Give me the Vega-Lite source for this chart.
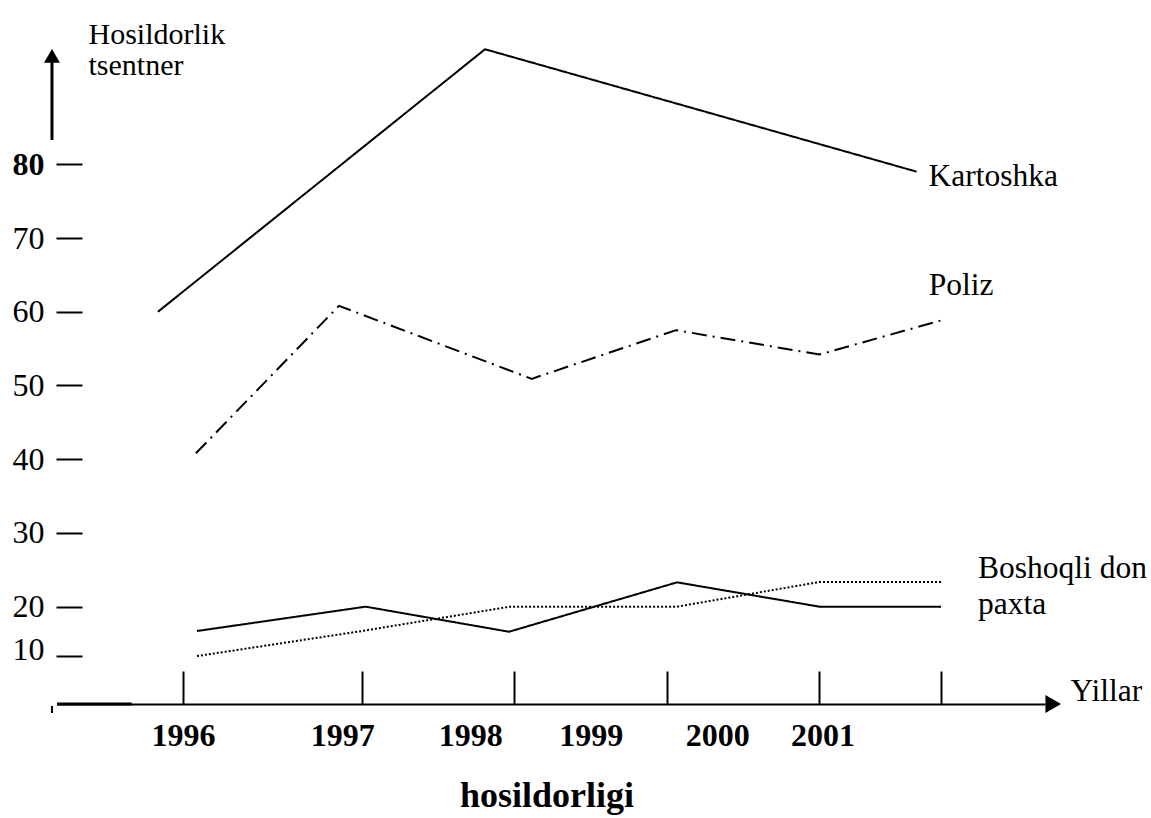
{
  "$schema": "https://vega.github.io/schema/vega-lite/v6.json",
  "width": 988,
  "height": 704,
  "autosize": {"type": "none"},
  "padding": {"left": 57, "top": 0, "right": 106, "bottom": 114},
  "background": "white",
  "config": {"view": {"stroke": null}, "font": "Liberation Serif"},
  "title": {
    "text": "hosildorligi",
    "orient": "bottom",
    "anchor": "middle",
    "frame": "group",
    "font": "Liberation Serif",
    "fontSize": 36,
    "fontWeight": "bold",
    "color": "black",
    "baseline": "alphabetic",
    "dx": -4,
    "offset": 56
  },
  "data": {
    "values": [
      {"series": "Kartoshka", "year": 1995.662, "value": 60.0},
      {"series": "Kartoshka", "year": 1997.807, "value": 95.6},
      {"series": "Kartoshka", "year": 2000.637, "value": 79.0},
      {"series": "Poliz", "year": 1995.911, "value": 40.8},
      {"series": "Poliz", "year": 1996.849, "value": 60.8},
      {"series": "Poliz", "year": 1998.113, "value": 50.9},
      {"series": "Poliz", "year": 1999.059, "value": 57.5},
      {"series": "Poliz", "year": 2000.0, "value": 54.2},
      {"series": "Poliz", "year": 2000.828, "value": 59.0},
      {"series": "paxta", "year": 1995.918, "value": 16.7},
      {"series": "paxta", "year": 1997.024, "value": 20.0},
      {"series": "paxta", "year": 1997.964, "value": 16.6},
      {"series": "paxta", "year": 1999.066, "value": 23.3},
      {"series": "paxta", "year": 2000.0, "value": 20.0},
      {"series": "paxta", "year": 2000.797, "value": 20.0},
      {"series": "Boshoqli don", "year": 1995.918, "value": 13.3},
      {"series": "Boshoqli don", "year": 1997.0, "value": 16.7},
      {"series": "Boshoqli don", "year": 1997.97, "value": 20.0},
      {"series": "Boshoqli don", "year": 1999.066, "value": 20.0},
      {"series": "Boshoqli don", "year": 2000.0, "value": 23.35},
      {"series": "Boshoqli don", "year": 2000.797, "value": 23.35}
    ]
  },
  "layer": [
    {
      "mark": {"type": "line", "color": "black", "strokeWidth": 2},
      "encoding": {
        "x": {
          "field": "year",
          "type": "quantitative",
          "scale": {"domain": [1995, 2001.479], "nice": false, "zero": false},
          "axis": {
            "orient": "bottom",
            "values": [1995.826, 1996.87, 1997, 1997.71, 1998, 1998.5, 1999, 1999.33, 2000, 2000.02, 2000.797],
            "grid": false,
            "domain": true,
            "domainColor": "black",
            "domainWidth": 2,
            "ticks": true,
            "tickSize": -33,
            "tickWidth": 2,
            "tickColor": "black",
            "tickOpacity": {"condition": {"test": "datum.value < 1996 || datum.value > 2000.5 || datum.value % 1 == 0", "value": 1}, "value": 0},
            "labelExpr": "datum.value < 1996 ? '1996' : abs(datum.value - 1996.87) < 0.005 ? '1997' : abs(datum.value - 1997.71) < 0.005 ? '1998' : abs(datum.value - 1998.5) < 0.005 ? '1999' : abs(datum.value - 1999.33) < 0.005 ? '2000' : abs(datum.value - 2000.02) < 0.005 ? '2001' : ''",
            "labelFont": "Liberation Serif",
            "labelFontSize": 32,
            "labelFontWeight": "bold",
            "labelColor": "black",
            "labelBaseline": "alphabetic",
            "labelAlign": "center",
            "labelPadding": 74,
            "labelOverlap": false,
            "labelFlush": false,
            "labelBound": false,
            "title": "Yillar",
            "titleFont": "Liberation Serif",
            "titleFontSize": 31.5,
            "titleFontWeight": "normal",
            "titleColor": "black",
            "titleAlign": "left",
            "titleBaseline": "alphabetic",
            "titleAngle": 0,
            "titleX": 1013,
            "titleY": -4
          }
        },
        "y": {
          "field": "value",
          "type": "quantitative",
          "scale": {"domain": [6.8, 102.28], "nice": false, "zero": false},
          "axis": {
            "orient": "left",
            "offset": -25,
            "values": [13.3, 20, 30, 40, 50, 60, 70, 80],
            "grid": false,
            "domain": false,
            "ticks": true,
            "tickSize": 26,
            "tickWidth": 2,
            "tickColor": "black",
            "labelExpr": "datum.value < 15 ? '10' : datum.label",
            "labelFont": "Liberation Serif",
            "labelFontSize": 32,
            "labelColor": "black",
            "labelFontWeight": {"condition": {"test": "datum.value == 80", "value": "bold"}, "value": "normal"},
            "labelOffset": {"condition": {"test": "datum.value < 15", "value": -7}, "value": 0},
            "labelPadding": 12,
            "labelAlign": "right",
            "labelBaseline": "middle",
            "labelOverlap": false,
            "labelFlush": false,
            "labelBound": false,
            "title": ["Hosildorlik", "tsentner"],
            "titleFont": "Liberation Serif",
            "titleFontSize": 30,
            "titleFontWeight": "normal",
            "titleColor": "black",
            "titleAngle": 0,
            "titleAlign": "left",
            "titleBaseline": "alphabetic",
            "titleLineHeight": 31,
            "titleX": 6,
            "titleY": 43
          }
        },
        "strokeDash": {
          "field": "series",
          "type": "nominal",
          "scale": {"domain": ["Kartoshka", "Poliz", "Boshoqli don", "paxta"], "range": [[1, 0], [15, 6, 2, 6], [2, 2], [1, 0]]},
          "legend": null
        }
      }
    },
    {
      "transform": [
        {"filter": "datum.series == 'Kartoshka'"},
        {"joinaggregate": [{"op": "max", "field": "year", "as": "ymax"}]},
        {"filter": "datum.year == datum.ymax"}
      ],
      "mark": {"type": "text", "align": "left", "baseline": "alphabetic", "dx": 12, "dy": 14, "fontSize": 31.5, "font": "Liberation Serif", "color": "black"},
      "encoding": {
        "x": {"field": "year", "type": "quantitative", "scale": {"domain": [1995, 2001.479], "nice": false, "zero": false}},
        "y": {"field": "value", "type": "quantitative", "scale": {"domain": [6.8, 102.28], "nice": false, "zero": false}},
        "text": {"field": "series"}
      }
    },
    {
      "transform": [
        {"filter": "datum.series == 'Poliz'"},
        {"joinaggregate": [{"op": "max", "field": "year", "as": "ymax"}]},
        {"filter": "datum.year == datum.ymax"}
      ],
      "mark": {"type": "text", "align": "left", "baseline": "alphabetic", "dx": -17, "dy": -24, "fontSize": 31.5, "font": "Liberation Serif", "color": "black"},
      "encoding": {
        "x": {"field": "year", "type": "quantitative", "scale": {"domain": [1995, 2001.479], "nice": false, "zero": false}},
        "y": {"field": "value", "type": "quantitative", "scale": {"domain": [6.8, 102.28], "nice": false, "zero": false}},
        "text": {"field": "series"}
      }
    },
    {
      "transform": [
        {"filter": "datum.series == 'Boshoqli don'"},
        {"joinaggregate": [{"op": "max", "field": "year", "as": "ymax"}]},
        {"filter": "datum.year == datum.ymax"}
      ],
      "mark": {"type": "text", "align": "left", "baseline": "alphabetic", "dx": 37, "dy": -4, "fontSize": 31.5, "font": "Liberation Serif", "color": "black"},
      "encoding": {
        "x": {"field": "year", "type": "quantitative", "scale": {"domain": [1995, 2001.479], "nice": false, "zero": false}},
        "y": {"field": "value", "type": "quantitative", "scale": {"domain": [6.8, 102.28], "nice": false, "zero": false}},
        "text": {"field": "series"}
      }
    },
    {
      "transform": [
        {"filter": "datum.series == 'paxta'"},
        {"joinaggregate": [{"op": "max", "field": "year", "as": "ymax"}]},
        {"filter": "datum.year == datum.ymax"}
      ],
      "mark": {"type": "text", "align": "left", "baseline": "alphabetic", "dx": 37, "dy": 7, "fontSize": 31.5, "font": "Liberation Serif", "color": "black"},
      "encoding": {
        "x": {"field": "year", "type": "quantitative", "scale": {"domain": [1995, 2001.479], "nice": false, "zero": false}},
        "y": {"field": "value", "type": "quantitative", "scale": {"domain": [6.8, 102.28], "nice": false, "zero": false}},
        "text": {"field": "series"}
      }
    },
    {
      "data": {"values": [{}]},
      "mark": {"type": "rule", "color": "black", "strokeWidth": 3},
      "encoding": {
        "x": {"datum": 1994.967, "type": "quantitative", "scale": {"domain": [1995, 2001.479], "nice": false, "zero": false}},
        "y": {"datum": 83.3, "type": "quantitative", "scale": {"domain": [6.8, 102.28], "nice": false, "zero": false}},
        "y2": {"datum": 94.2}
      }
    },
    {
      "data": {"values": [{}]},
      "mark": {"type": "point", "shape": "triangle-up", "filled": true, "color": "black", "opacity": 1, "size": 256},
      "encoding": {
        "x": {"datum": 1994.967, "type": "quantitative", "scale": {"domain": [1995, 2001.479], "nice": false, "zero": false}},
        "y": {"datum": 94.7, "type": "quantitative", "scale": {"domain": [6.8, 102.28], "nice": false, "zero": false}}
      }
    },
    {
      "data": {"values": [{}]},
      "mark": {"type": "point", "shape": "triangle-right", "filled": true, "color": "black", "opacity": 1, "size": 324},
      "encoding": {
        "x": {"datum": 2001.533, "type": "quantitative", "scale": {"domain": [1995, 2001.479], "nice": false, "zero": false}},
        "y": {"datum": 6.8, "type": "quantitative", "scale": {"domain": [6.8, 102.28], "nice": false, "zero": false}}
      }
    },
    {
      "data": {"values": [{}]},
      "mark": {"type": "rule", "color": "black", "strokeWidth": 3},
      "encoding": {
        "x": {"datum": 1995.0, "type": "quantitative", "scale": {"domain": [1995, 2001.479], "nice": false, "zero": false}},
        "x2": {"datum": 1995.49},
        "y": {"datum": 6.8, "type": "quantitative", "scale": {"domain": [6.8, 102.28], "nice": false, "zero": false}}
      }
    },
    {
      "data": {"values": [{}]},
      "mark": {"type": "rule", "color": "black", "strokeWidth": 2},
      "encoding": {
        "x": {"datum": 1994.967, "type": "quantitative", "scale": {"domain": [1995, 2001.479], "nice": false, "zero": false}},
        "y": {"datum": 6.53, "type": "quantitative", "scale": {"domain": [6.8, 102.28], "nice": false, "zero": false}},
        "y2": {"datum": 5.58}
      }
    }
  ]
}
